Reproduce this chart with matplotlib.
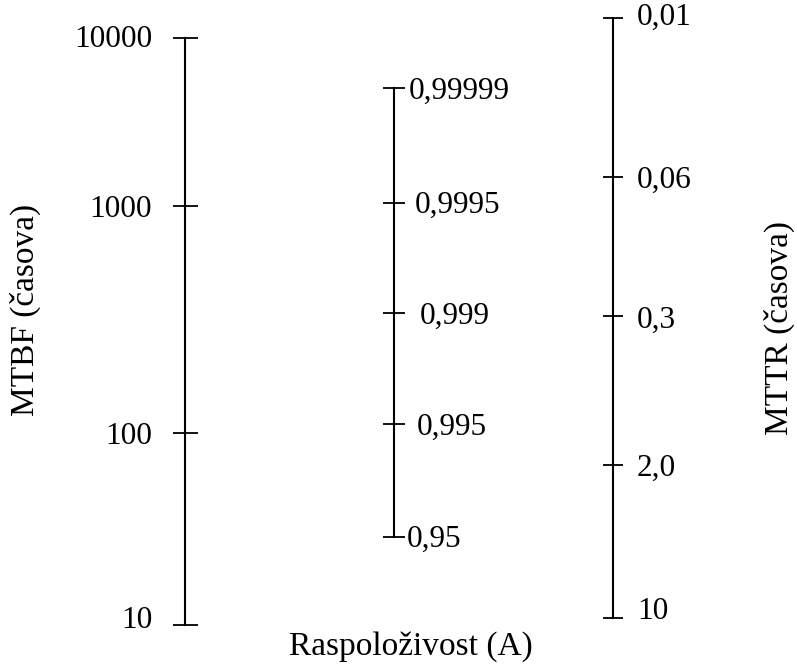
import matplotlib
matplotlib.use("Agg")
import matplotlib.pyplot as plt

plt.rcParams['font.family'] = ['Liberation Serif', 'DejaVu Serif']

# ---- data: scale values and their relative positions along each scale ----
mtbf_labels = ["10", "100", "1000", "10000"]
mtbf_pos = [0.0, 0.327, 0.714, 1.0]

avail_labels = ["0,95", "0,995", "0,999", "0,9995", "0,99999"]
avail_pos = [0.0, 0.252, 0.499, 0.744, 1.0]

mttr_labels = ["10", "2,0", "0,3", "0,06", "0,01"]
mttr_pos = [0.0, 0.255, 0.503, 0.735, 1.0]

# label offsets from the scale line (pixels): horizontal, vertical (up +)
mtbf_dx = [-33, -33, -33, -33]
mtbf_dy = [8, 0, 0, 2]
avail_dx = [13, 23, 26, 21, 15]
avail_dy = [1, 0, 0, 1, 0]
mttr_dx = [24, 24, 24, 24, 24]
mttr_dy = [10, 0, -1, 0, 4]

W, H = 797, 664
fig = plt.figure(figsize=(W / 100, H / 100), dpi=100)

FS = 22.5
FS_TITLE = 24
LW = 1.5
PX = 0.72  # points per pixel at dpi 100


def make_scale(xpix, top_pix, bot_pix, pos, labels, dxs, dys, ticklen):
    left = xpix / W
    bottom = (H - bot_pix) / H
    height = (bot_pix - top_pix) / H
    ax = fig.add_axes([left, bottom, 0.0001, height])
    ax.set_xlim(0, 1)
    ax.set_ylim(0, 1)
    ax.patch.set_visible(False)
    for s in ax.spines.values():
        s.set_visible(False)
    sp = ax.spines['left']
    sp.set_visible(True)
    sp.set_linewidth(LW)
    ax.set_xticks([])
    ax.set_yticks(pos)
    ax.set_yticklabels([])
    ax.tick_params(axis='y', direction='inout', length=ticklen, width=1.3,
                   colors='black')
    for p, lab, dx, dy in zip(pos, labels, dxs, dys):
        ax.annotate(lab, xy=(0, p), xycoords=('axes fraction', 'data'),
                    xytext=(dx * PX, dy * PX), textcoords='offset points',
                    ha='right' if dx < 0 else 'left', va='center_baseline',
                    fontsize=FS, annotation_clip=False)
    return ax


make_scale(185, 38, 625, mtbf_pos, mtbf_labels, mtbf_dx, mtbf_dy, 18)
make_scale(394, 88, 537, avail_pos, avail_labels, avail_dx, avail_dy, 16.5)
make_scale(613, 18, 618, mttr_pos, mttr_labels, mttr_dx, mttr_dy, 15)

fig.text(25 / W, 1 - 310 / H, "MTBF (časova)", rotation=90, ha='center',
         va='center', fontsize=FS_TITLE)
fig.text(779 / W, 1 - 328 / H, "MTTR (časova)", rotation=90, ha='center',
         va='center', fontsize=FS_TITLE)
fig.text(411 / W, 9 / H, "Raspoloživost (A)", ha='center', va='baseline',
         fontsize=FS_TITLE)

fig.savefig("out.png", dpi=100, facecolor='white')
